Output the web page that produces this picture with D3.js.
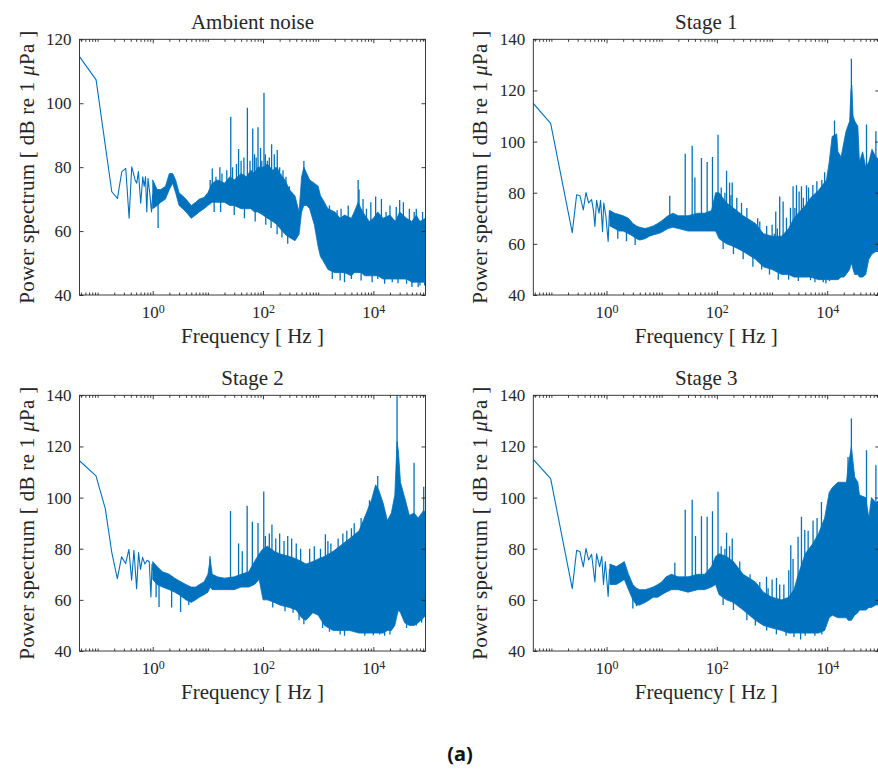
<!DOCTYPE html>
<html><head><meta charset="utf-8">
<script src="https://cdn.jsdelivr.net/npm/d3@7"></script>
<style>
body{margin:0;background:#fff;}
svg text{font-family:"Liberation Serif","DejaVu Serif","Times New Roman",Times,serif;fill:#262626;}
svg text.caption{font-family:"Noto Sans","Open Sans",sans-serif;font-weight:bold;fill:#111;}
</style></head><body>
<svg id="chart" width="878" height="769"></svg>
<script>
// ---------- tick labels / titles ----------
const titles = ["Ambient noise", "Stage 1", "Stage 2", "Stage 3"];
const xTickExponents = [0, 2, 4];
const yTicksAmbient = [40, 60, 80, 100, 120];
const yTicksStage = [40, 60, 80, 100, 120, 140];
const freqDomain = [0.047, 88200];

// ---------- Ambient noise ----------
// sparse low-frequency trace [f Hz, dB]
const ambientLine = [[0.047,114.6],[0.094,107.3],[0.181,72.3],[0.229,70.2],[0.275,78.6],[0.324,79.6],[0.373,64],[0.416,80.1],[0.479,76],[0.513,75],[0.55,78.6],[0.606,68.7],[0.659,77],[0.70,74],[0.74,77],[0.78,66],[0.82,76.5],[0.88,72],[0.95,66]];
// dense part: [f Hz, lower dB, upper dB]
const ambientBand = [[1.0,67,76],[1.2,68,73],[1.4,69,73],[1.7,70,74],[2.0,73,78],[2.3,75,78],[2.6,72,76],[3.0,68,72],[3.5,67,71],[4.0,66,70],[5.0,64,68],[6.0,65,69],[7.0,66,70],[8.5,67,70.5],[10,68,72],[12,69,75],[15,69,76],[20,69,75],[25,68,77],[30,68,76],[40,67,78],[50,67,77],[60,67,79],[70,66,78],[80,66,80],[100,65,80],[120,64,81],[150,63,79],[180,62,80],[200,61,78],[250,59,76],[300,58,73],[380,57,71],[450,59,66],[500,66,77],[550,68,80],[620,68,78],[700,67,76],[850,62,75],[1000,55,74],[1100,52,71],[1200,51,70],[1500,48,67],[2000,47,66],[2500,47,64],[3000,47,65],[4000,46,64],[4500,47,66],[5300,47,69],[6000,47,67],[7000,46,65],[8500,46,63],[10000,46,64],[12000,46,66],[15000,45,64],[20000,45,65],[25000,45,63],[30000,45,66],[40000,45,64],[50000,44,63],[60000,44,65],[70000,44,63],[88000,44,64]];
// narrow peaks / dips: [f Hz, dB]
const ambientSpikes = [[1.25,61],[11,76],[12,79.6],[13,66],[14,77],[16.5,80],[17,66],[18,78],[22,79],[26,95.8],[28,80],[30,65],[33,81],[36,85.7],[40,82],[45,83],[46,64],[52,98.6],[58,82],[65,92.1],[70,84],[72,63],[75,83],[81,92.5],[90,86],[95,82],[104,103.3],[110,84],[112,62],[120,82],[130,83],[140,61],[143,87.2],[160,84],[170,80],[180,59],[181,85.4],[200,80],[210,78],[220,58],[230,79],[260,77],[280,56],[300,74],[366,57.7],[550,81.9],[1100,71],[1300,68],[1600,68],[1800,45],[2200,66.5],[2500,44.5],[2600,67],[3000,44],[3500,68],[4000,45],[5300,76],[5500,73],[6000,44.5],[6500,70],[7500,67],[9000,69],[9500,44],[11000,70.8],[12000,45],[14000,70],[16000,43.5],[17000,66],[20000,68],[22000,44],[26000,67.5],[28000,43.7],[30000,69.7],[35000,69],[40000,43.5],[45000,67],[50000,42.5],[55000,66],[60000,67],[65000,42.5],[70000,43],[78000,66],[85000,43]];

// ---------- Stage 1 ----------
const stage1Line = [[0.047,114.9],[0.097,107.1],[0.239,64.4],[0.287,79.2],[0.33,78.8],[0.379,73.3],[0.424,80.1],[0.473,76],[0.536,77.3],[0.58,73],[0.615,66.8],[0.66,77],[0.73,72],[0.78,77],[0.847,64.8],[0.89,76],[0.97,71],[1.07,60.9],[1.13,73]];
const stage1Band = [[1.15,67,73],[1.4,66,72],[1.7,65,71.5],[2.0,65,71],[2.5,64,70],[3.0,63,68],[3.5,62,67],[4.0,61.5,66.5],[5.0,62,66],[6.0,63,66.5],[7.0,63.5,67],[8.5,64,68],[10,64.5,69],[13,66,71],[16,66.5,72],[20,66,71],[30,65,71],[45,65,72],[60,65,72],[80,65,73],[95,65,80],[110,62,80],[150,60,76],[200,59,74],[300,57,71],[500,54,68],[700,51,64],[1000,50,63],[1500,48,63],[2000,48,66],[2500,47,70],[3000,47,72],[4000,47,75],[5000,47,78],[7000,46,81],[9700,46,85],[10900,46,92],[12300,46,102],[14900,46,103],[15700,46,96],[17900,47,94],[20200,47,100],[22000,48,104],[25600,50,108],[27000,52,120],[28000,52,122],[29500,50,110],[31600,48,108],[36000,48,106],[38500,47,92],[44000,47,96],[50000,48,90],[57000,54,92],[65000,56,97],[76500,57,94],[88000,57,93]];
const stage1Spikes = [[1.6,62],[2.3,61],[3.3,59.6],[14,78.8],[26.7,95.2],[35.7,98.4],[40,86],[52.6,93.6],[66.7,92],[83.4,94],[105,102.7],[120,82],[130,58],[140,80],[150,88.6],[170,84],[180,79],[190,84],[200,56],[230,78],[280,76],[300,54],[350,74],[450,51],[550,70],[600,68.7],[650,50],[800,67],[900,48],[1005,67.5],[1100,64],[1170,72.7],[1250,66],[1300,46],[1380,78.5],[1590,76.6],[1700,64],[1830,70.2],[2000,46],[2160,74.1],[2410,82.5],[2600,74],[2780,82.9],[3000,45.5],[3100,80.5],[3420,82.5],[3700,78],[4220,82.9],[4600,82],[5000,45.8],[5500,83],[6000,45],[6500,84.5],[8000,85],[8500,45],[9000,88],[9500,44.5],[11000,45.5],[13600,108.2],[27500,132.4],[51700,106.7],[76500,104]];

// ---------- Stage 2 ----------
const stage2Line = [[0.047,114.4],[0.0935,108.5],[0.138,95.7],[0.18,78.8],[0.228,68.3],[0.272,76.8],[0.322,74.2],[0.37,79.7],[0.414,67.7],[0.456,79.4],[0.51,64.4],[0.554,78.5],[0.6,71.9],[0.655,76.6],[0.72,74],[0.795,75.5],[0.865,74.9],[0.927,61.1],[0.97,74]];
const stage2Band = [[1.0,68,75],[1.2,66,73],[1.5,65,71],[2.0,64,70],[2.5,63,68.5],[3.0,62,67.5],[4.0,60,66],[5.0,59,65],[6.0,60,65],[7.0,61,66],[8.5,62,67],[10,63,70],[11,65,76],[12,64,70],[15,64,69],[20,64,68.5],[30,64,69],[40,65,70],[55,65,71],[70,66,75],[85,68,78],[100,60,80],[120,60,81],[160,59,79],[200,58,78],[300,57,77],[400,56,76],[500,53,75],[600,52,74],[800,55,75],[1000,54,76],[1300,50,77],[1870,48,79],[3730,48,84],[5500,47,87],[7480,47,94],[9220,47,99],[11000,47,105],[12500,47,103],[15000,47,98],[18000,48,91],[21200,48,94],[24500,50,101],[26900,54,122],[28500,56,118],[31000,55,106],[37000,51,100],[45000,50,93],[54700,50,94],[65000,51,92],[81800,53,95],[88000,54,94]];
const stage2Spikes = [[1.15,61],[1.3,57.2],[2.2,57],[3.2,55.3],[4.5,58],[10.9,77.1],[25.7,94.8],[36,82],[42,79],[51.5,96.8],[64,90.5],[81,90.1],[103,102.4],[110,85],[130,86],[145,89.5],[150,57],[170,84],[200,86],[240,83],[250,55.5],[280,85],[330,84],[350,55],[400,82],[450,52],[480,80],[550,50.5],[700,80],[850,81],[1100,80],[1200,49],[1350,85.7],[1500,83],[1600,47.5],[1700,82],[2300,84],[2500,46.5],[2800,86],[3000,46],[3300,87],[4000,88],[4500,90],[6000,92],[7000,46],[8500,99],[10000,46.2],[12000,108.4],[13000,46.5],[16000,46],[20000,46.5],[26900,140],[40000,49],[54700,113.6],[60000,50],[75000,51],[81800,104.2]];

// ---------- Stage 3 ----------
const stage3Line = [[0.047,114.9],[0.097,107.4],[0.239,64.4],[0.287,79.4],[0.33,78.8],[0.379,72.9],[0.424,80.1],[0.473,75.6],[0.536,77.8],[0.615,67],[0.66,78],[0.75,73],[0.82,77],[0.88,66],[0.95,75],[1.07,61.3],[1.13,72]];
const stage3Band = [[1.15,66,74],[1.5,66,73],[1.8,67,74],[2.1,68,75],[2.5,64,70],[3.0,60,66],[3.5,58,64.5],[4.0,58,64],[5.0,59,64],[6.0,60,64.5],[7.0,61,65],[8.5,61,66],[10,62,67],[12,63,69],[15,64,70],[20,64,69],[30,63,69],[45,64,70],[60,64,70],[80,65,73],[95,66,77],[110,62,78],[150,60,77],[200,59,75],[300,56,70],[500,52,67],[700,50,63],[1000,49,61],[1500,48,60],[2000,47,61],[2500,47,64],[3000,47,70],[4000,47,78],[5500,47,82],[7000,47,86],[9000,48,92],[10900,53,102],[12500,54,104],[15700,53,106],[18200,53,106],[22400,53,106],[23900,52,112],[27500,52,120],[31600,54,108],[36000,55,106],[38500,56,101],[50000,56,100],[57000,57,92],[63500,57,100],[76500,58,98],[88000,58,99]];
const stage3Spikes = [[1.6,67],[3.0,56.6],[3.5,57.5],[17.3,74.5],[26.7,95.2],[35.7,99.2],[41,85],[52.6,92.7],[66.7,92.5],[83.4,94.7],[105,102.3],[120,81],[130,58],[140,80],[150,86.2],[170,81],[190,84],[200,56],[260,75],[350,52],[400,70],[500,50],[600,67],[795,69],[800,48],[850,64.5],[1005,68],[1200,46.5],[1205,68.6],[1380,66],[1640,66],[1800,46],[2015,71.6],[2190,81.4],[2410,76],[2500,45.5],[2970,84.7],[3300,44.5],[3420,92.5],[3930,87.3],[4000,46],[4520,87],[5550,91],[6000,46],[6560,92],[7880,98.3],[8000,46.5],[23900,115.9],[27500,130.9],[51700,118.5],[76500,112.6]];

// ---------- drawing ----------
const panels = [
  {title: titles[0], line: ambientLine, band: ambientBand, spikes: ambientSpikes, yTicks: yTicksAmbient},
  {title: titles[1], line: stage1Line, band: stage1Band, spikes: stage1Spikes, yTicks: yTicksStage},
  {title: titles[2], line: stage2Line, band: stage2Band, spikes: stage2Spikes, yTicks: yTicksStage},
  {title: titles[3], line: stage3Line, band: stage3Band, spikes: stage3Spikes, yTicks: yTicksStage}
];

const svg = d3.select("#chart");
const W = 346, H = 255.7;
const cols = [79.5, 533.3], rows = [39.3, 395.3];
const color = "#0072BD", axisColor = "#262626";
const serif = '"Liberation Serif","DejaVu Serif","Times New Roman",Times,serif';

panels.forEach((p, i) => {
  const x0 = cols[i % 2], y0 = rows[Math.floor(i / 2)];
  const g = svg.append("g").attr("transform", `translate(${x0},${y0})`).attr("font-family", serif);
  const x = d3.scaleLog().domain(freqDomain).range([0, W]);
  const y = d3.scaleLinear().domain([p.yTicks[0], p.yTicks[p.yTicks.length - 1]]).range([H, 0]);

  const clipId = "clip" + i;
  g.append("clipPath").attr("id", clipId).append("rect").attr("width", W).attr("height", H);
  const plot = g.append("g").attr("clip-path", `url(#${clipId})`);

  // dense band
  const area = d3.area().x(d => x(d[0])).y0(d => y(d[1])).y1(d => y(d[2]));
  plot.append("path").datum(p.band).attr("d", area)
    .attr("fill", color).attr("stroke", color).attr("stroke-width", 0.8).attr("stroke-linejoin", "round");

  // sparse low-frequency trace, joined to the band start
  const b0 = p.band[0];
  const lineData = p.line.concat([[b0[0], (b0[1] + b0[2]) / 2]]);
  const line = d3.line().x(d => x(d[0])).y(d => y(d[1]));
  plot.append("path").datum(lineData).attr("d", line)
    .attr("fill", "none").attr("stroke", color).attr("stroke-width", 1.1).attr("stroke-linejoin", "round");

  // spikes from band middle
  const lf = p.band.map(d => Math.log10(d[0]));
  const mid = p.band.map(d => (d[1] + d[2]) / 2);
  const baseAt = f => {
    const l = Math.log10(f);
    if (l <= lf[0]) return mid[0];
    for (let k = 1; k < lf.length; k++) {
      if (l <= lf[k]) { const t = (l - lf[k-1]) / (lf[k] - lf[k-1]); return mid[k-1] + t * (mid[k] - mid[k-1]); }
    }
    return mid[mid.length - 1];
  };
  plot.selectAll("line.spike").data(p.spikes).join("line").attr("class", "spike")
    .attr("x1", d => x(d[0])).attr("x2", d => x(d[0]))
    .attr("y1", d => y(baseAt(d[0]))).attr("y2", d => y(d[1]))
    .attr("stroke", color).attr("stroke-width", 1.3);

  // axes
  const majors = xTickExponents.map(e => Math.pow(10, e));
  const minors = x.ticks(20).filter(v => !majors.some(m => Math.abs(m - v) / m < 1e-9));

  const styleAxis = sel => { sel.attr("font-size", 17).attr("font-family", serif).attr("color", axisColor); sel.select(".domain").remove(); sel.selectAll(".tick line").attr("stroke-width", 0.9); };

  const gB = g.append("g").attr("transform", `translate(0,${H})`)
    .call(d3.axisBottom(x).tickValues(majors).tickSizeInner(-4).tickSizeOuter(0).tickPadding(11).tickFormat(() => ""));
  styleAxis(gB);
  gB.selectAll(".tick text").each(function(d) {
    const t = d3.select(this);
    t.append("tspan").text("10");
    t.append("tspan").attr("dy", "-0.45em").attr("font-size", "12px").text(Math.round(Math.log10(d)));
  });
  const gBm = g.append("g").attr("transform", `translate(0,${H})`)
    .call(d3.axisBottom(x).tickValues(minors).tickSizeInner(-2.5).tickSizeOuter(0).tickFormat(() => ""));
  styleAxis(gBm); gBm.selectAll("text").remove();

  const gT = g.append("g").call(d3.axisTop(x).tickValues(majors).tickSizeInner(-4).tickSizeOuter(0).tickFormat(() => ""));
  styleAxis(gT); gT.selectAll("text").remove();
  const gTm = g.append("g").call(d3.axisTop(x).tickValues(minors).tickSizeInner(-2.5).tickSizeOuter(0).tickFormat(() => ""));
  styleAxis(gTm); gTm.selectAll("text").remove();

  const gL = g.append("g").call(d3.axisLeft(y).tickValues(p.yTicks).tickSizeInner(-4).tickSizeOuter(0).tickPadding(8));
  styleAxis(gL);
  const gR = g.append("g").attr("transform", `translate(${W},0)`)
    .call(d3.axisRight(y).tickValues(p.yTicks).tickSizeInner(-4).tickSizeOuter(0).tickFormat(() => ""));
  styleAxis(gR); gR.selectAll("text").remove();

  g.append("rect").attr("width", W).attr("height", H)
    .attr("fill", "none").attr("stroke", axisColor).attr("stroke-width", 0.9);

  // texts
  g.append("text").attr("x", W / 2).attr("y", -10.5).attr("text-anchor", "middle")
    .attr("font-size", 21).text(p.title);
  g.append("text").attr("x", W / 2).attr("y", H + 48).attr("text-anchor", "middle")
    .attr("font-size", 21).text("Frequency [ Hz ]");
  const yl = g.append("text").attr("transform", `translate(-46,${H / 2}) rotate(-90)`)
    .attr("text-anchor", "middle").attr("font-size", 21).attr("letter-spacing", 0.3);
  yl.append("tspan").text("Power spectrum [ dB re 1 ");
  yl.append("tspan").attr("font-style", "italic").text("μ");
  yl.append("tspan").text("Pa ]");
});

svg.append("text").attr("class", "caption").attr("x", 460).attr("y", 761)
  .attr("text-anchor", "middle").attr("font-size", 20).text("(a)");
</script>
</body></html>
